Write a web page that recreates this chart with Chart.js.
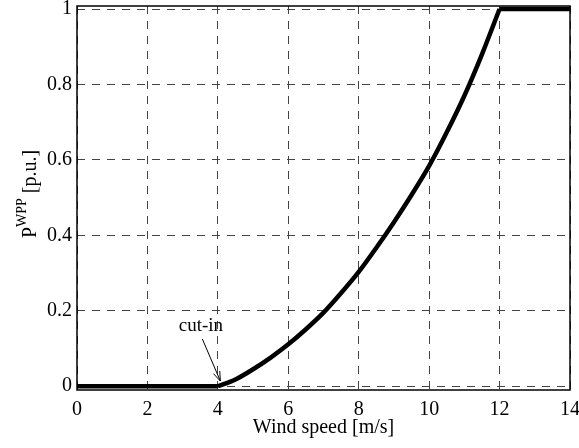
<!DOCTYPE html>
<html>
<head>
<meta charset="utf-8">
<script src="https://cdn.jsdelivr.net/npm/chart.js@4"></script>
<style>
  html, body { margin: 0; padding: 0; background: #fff; }
  #wrap { width: 579px; height: 448px; }
</style>
</head>
<body>
<div id="wrap"><canvas id="powerCurve"></canvas></div>
<script>
// wind speed [m/s] and power output [p.u.]
var lowSpeed = [0, 4];
var lowPower = [0, 0];
var curveSpeed = [4, 4.5, 5, 5.5, 6, 6.5, 7, 7.5, 8, 8.5, 9, 9.5, 10, 10.5, 11, 11.5, 12];
var curvePower = [0, 0.018, 0.045, 0.076, 0.111, 0.151, 0.195, 0.247, 0.303, 0.367, 0.435, 0.507, 0.584, 0.673, 0.77, 0.88, 1.0];
var ratedSpeed = [12, 14];
var ratedPower = [1, 1];

var xTicks = [0, 2, 4, 6, 8, 10, 12, 14];
var yTicks = [0, 0.2, 0.4, 0.6, 0.8, 1];

// cut-in label and arrow (data units)
var cutInText = [3.52, 0.16];
var cutInArrowFrom = [3.56, 0.125];
var cutInArrowTo = [4.07, 0.014];

var serif = "'Liberation Serif', 'Times New Roman', serif";

function toPoints(xs, ys) {
    return xs.map(function (v, i) { return { x: v, y: ys[i] }; });
}

function lineSet(data, smooth) {
    return {
        data: data,
        borderColor: '#000',
        borderWidth: 4.5,
        pointRadius: 0,
        cubicInterpolationMode: smooth ? 'monotone' : 'default',
        tension: 0,
        fill: false
    };
}

var extras = {
    id: 'extras',
    afterDraw: function (chart) {
        var ctx = chart.ctx;
        var a = chart.chartArea;
        var xs = chart.scales.x, ys = chart.scales.y;
        ctx.save();

        // box around plot
        ctx.strokeStyle = '#000';
        ctx.lineWidth = 1.5;
        ctx.strokeRect(a.left, a.top, a.right - a.left, a.bottom - a.top);

        // y axis title with superscript
        ctx.fillStyle = '#000';
        ctx.translate(30, (a.top + a.bottom) / 2 - 4);
        ctx.rotate(-Math.PI / 2);
        ctx.textBaseline = 'alphabetic';
        ctx.font = '20px ' + serif;
        var pW = ctx.measureText('P').width;
        ctx.font = '14px ' + serif;
        var supW = ctx.measureText('WPP').width;
        ctx.font = '20px ' + serif;
        var restW = ctx.measureText(' [p.u.]').width;
        var x0 = -(pW + supW + restW) / 2;
        ctx.textAlign = 'left';
        ctx.fillText('P', x0, 6);
        ctx.font = '14px ' + serif;
        ctx.fillText('WPP', x0 + pW, -4);
        ctx.font = '20px ' + serif;
        ctx.fillText(' [p.u.]', x0 + pW + supW, 6);
        ctx.restore();

        // cut-in annotation
        ctx.save();
        ctx.fillStyle = '#000';
        ctx.font = '19px ' + serif;
        ctx.textAlign = 'center';
        ctx.textBaseline = 'middle';
        ctx.fillText('cut-in', xs.getPixelForValue(cutInText[0]), ys.getPixelForValue(cutInText[1]));

        var fx = xs.getPixelForValue(cutInArrowFrom[0]), fy = ys.getPixelForValue(cutInArrowFrom[1]);
        var tx = xs.getPixelForValue(cutInArrowTo[0]), ty = ys.getPixelForValue(cutInArrowTo[1]);
        ctx.strokeStyle = '#000';
        ctx.lineWidth = 1;
        ctx.beginPath();
        ctx.moveTo(fx, fy);
        ctx.lineTo(tx, ty);
        ctx.stroke();
        var ang = Math.atan2(ty - fy, tx - fx);
        var len = 10, spread = 0.35;
        ctx.beginPath();
        ctx.moveTo(tx, ty);
        ctx.lineTo(tx - len * Math.cos(ang - spread), ty - len * Math.sin(ang - spread));
        ctx.moveTo(tx, ty);
        ctx.lineTo(tx - len * Math.cos(ang + spread), ty - len * Math.sin(ang + spread));
        ctx.stroke();
        ctx.restore();
    }
};

var ctx = document.getElementById('powerCurve').getContext('2d');
var chart = new Chart(ctx, {
    type: 'line',
    data: {
        datasets: [
            lineSet(toPoints(lowSpeed, lowPower), false),
            lineSet(toPoints(curveSpeed, curvePower), true),
            lineSet(toPoints(ratedSpeed, ratedPower), false)
        ]
    },
    options: {
        responsive: true,
        maintainAspectRatio: false,
        animation: false,
        layout: { padding: { left: 0, top: 6, right: 9, bottom: 0 } },
        plugins: {
            legend: { display: false },
            tooltip: { enabled: false }
        },
        scales: {
            x: {
                type: 'linear',
                min: 0,
                max: 14,
                afterFit: function (scale) {
                    scale.height = 58;
                    scale.paddingLeft = 0;
                    scale.paddingRight = 0;
                },
                afterBuildTicks: function (scale) {
                    scale.ticks = xTicks.map(function (v) { return { value: v }; });
                },
                grid: {
                    color: '#444',
                    lineWidth: 1,
                    drawTicks: false
                },
                border: { display: false, dash: [8, 7] },
                ticks: {
                    color: '#000',
                    padding: 8,
                    maxRotation: 0,
                    font: { family: serif, size: 20 },
                    callback: function (v) { return String(v); }
                },
                title: {
                    display: true,
                    text: 'Wind speed [m/s]',
                    color: '#000',
                    font: { family: serif, size: 20 },
                    padding: { top: 0, bottom: 8 }
                }
            },
            y: {
                type: 'linear',
                min: -0.01,
                max: 1.008,
                afterFit: function (scale) {
                    scale.width = 77;
                    scale.paddingTop = 0;
                    scale.paddingBottom = 0;
                },
                afterBuildTicks: function (scale) {
                    scale.ticks = yTicks.map(function (v) { return { value: v }; });
                },
                grid: {
                    color: '#444',
                    lineWidth: 1,
                    drawTicks: false
                },
                border: { display: false, dash: [8, 7] },
                ticks: {
                    color: '#000',
                    padding: 5,
                    font: { family: serif, size: 20 },
                    callback: function (v) { return String(v); }
                }
            }
        }
    },
    plugins: [extras]
});
</script>
</body>
</html>
